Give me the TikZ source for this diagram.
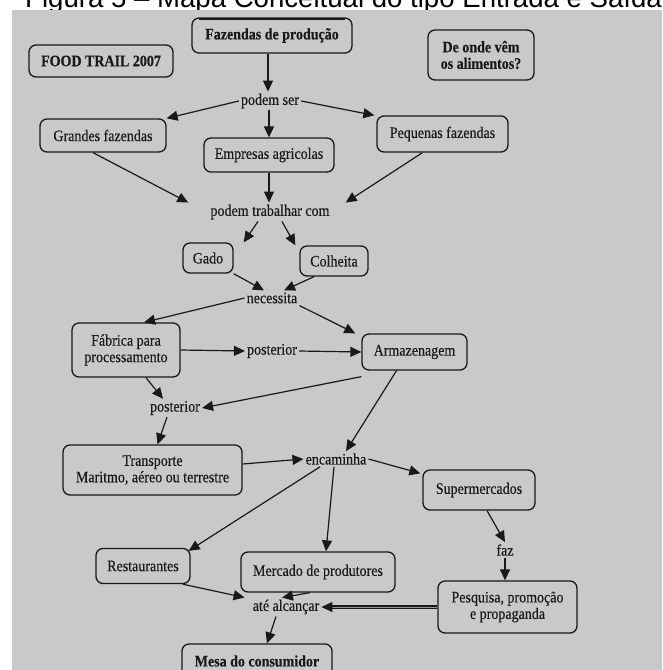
\documentclass[tikz,border=0pt]{standalone}
\usepackage{fontspec}
\setmainfont{Liberation Serif}[FakeStretch=0.875, FakeBold=0.3]
\newfontfamily\capfont{Liberation Sans}
\usetikzlibrary{arrows.meta}
\definecolor{panel}{RGB}{201,201,201}
\definecolor{ink}{RGB}{25,25,25}
\tikzset{
  concept/.style={draw=ink, rounded corners=7pt, line width=1.3pt, align=center,
    inner sep=2pt, font=\fontsize{16}{16.5}\selectfont, text=ink},
  bconcept/.style={concept, font=\fontsize{16}{16.5}\selectfont\bfseries},
  link/.style={inner sep=2pt, font=\fontsize{16}{16.5}\selectfont, text=ink},
  arr/.style={draw=ink, line width=1.2pt, -{Triangle[length=11pt,width=10pt]}},
}
\begin{document}
\begin{tikzpicture}[x=1pt,y=-1pt]
\useasboundingbox (0,0) rectangle (662,670);
\fill[white] (0,0) rectangle (662,670);
% caption strip, cut off at the top edge
\begin{scope}
  \clip (0,0) rectangle (662,10);
  \node[anchor=base west, inner sep=0pt, font=\capfont\fontsize{27.6}{30}\selectfont] (caption) at (25,7)
    {Figura 5 – Mapa Conceitual do tipo Entrada e Saída};
\end{scope}
\fill[panel] (12,10) rectangle (662,670);

% concepts
\node[bconcept, minimum width=160pt, minimum height=35pt] (faz) at (272,35.5) {Fazendas de produção};
\draw[ink, line width=2pt] ([xshift=8pt,yshift=-2pt]faz.north west) -- ([xshift=-8pt,yshift=-2pt]faz.north east);
\node[bconcept, minimum width=144pt, minimum height=32pt] (food) at (101,61) {FOOD TRAIL 2007};
\node[bconcept, minimum width=106pt, minimum height=50pt] (onde) at (481,55) {De onde vêm\\os alimentos?};
\node[link] (ser) at (270,101) {podem ser};
\node[concept, minimum width=126pt, minimum height=33pt] (grandes) at (103,135.5) {Grandes fazendas};
\node[concept, minimum width=130pt, minimum height=34pt] (empresas) at (269,155) {Empresas agricolas};
\node[concept, minimum width=131pt, minimum height=36pt] (pequenas) at (442.5,134) {Pequenas fazendas};
\node[link] (trab) at (270,212) {podem trabalhar com};
\node[concept, minimum width=50pt, minimum height=30pt] (gado) at (208,258) {Gado};
\node[concept, minimum width=68pt, minimum height=30pt] (colheita) at (334,261) {Colheita};
\node[link] (nec) at (272,298) {necessita};
\node[concept, minimum width=108pt, minimum height=54pt] (fabrica) at (126,350) {Fábrica para\\processamento};
\node[link] (postA) at (272,351) {posterior};
\node[concept, minimum width=105pt, minimum height=36pt] (armaz) at (414.5,352) {Armazenagem};
\node[link] (postB) at (175,408) {posterior};
\node[concept, minimum width=179pt, minimum height=50pt] (transp) at (152.5,470) {Transporte\\Maritmo, aéreo ou terrestre};
\node[link] (enc) at (336,459) {encaminha};
\node[concept, minimum width=112pt, minimum height=40pt] (super) at (479,490) {Supermercados};
\node[concept, minimum width=94pt, minimum height=35pt] (rest) at (143,566) {Restaurantes};
\node[concept, minimum width=154pt, minimum height=40pt] (merc) at (318,572) {Mercado de produtores};
\node[link] (fz) at (505,550) {faz};
\node[concept, minimum width=139pt, minimum height=52pt] (pesq) at (507.5,607) {Pesquisa, promoção\\e propaganda};
\node[link] (ate) at (286,607) {até alcançar};
\node[bconcept, minimum width=150pt, minimum height=34pt] (mesa) at (257,661) {Mesa do consumidor};

% connectors
\draw[arr] (faz.south) ++(-4,0) coordinate (f0) (f0) -- (f0 |- ser.north);
\draw[arr] (ser.west) -- (grandes.north east);
\draw[arr] (ser.south -| empresas.north) -- (empresas.north);
\draw[arr] (ser.east) -- ([xshift=-2pt]pequenas.north west);
\draw[arr] ([xshift=-10pt]grandes.south) -- ([xshift=-20pt]trab.north west);
\draw[arr] (empresas.south) -- (empresas.south |- trab.north);
\draw[arr] ([xshift=-20pt]pequenas.south) -- ([xshift=14pt]trab.north east);
\draw[arr] ([xshift=-12pt]trab.south) -- ([xshift=10pt]gado.north east);
\draw[arr] ([xshift=12pt]trab.south) -- ([xshift=-4pt]colheita.north west);
\draw[arr] (gado.south east) -- ([xshift=-8pt]nec.north);
\draw[arr] ([xshift=-20pt]colheita.south) -- ([xshift=12pt]nec.north);
\draw[arr] (nec.west) -- ([xshift=18pt]fabrica.north);
\draw[arr] (nec.south east) -- ([xshift=-6pt]armaz.north west);
\draw[arr] (fabrica.east) -- (postA.west);
\draw[arr] (postA.east) -- (armaz.west);
\draw[arr] ([xshift=20pt]fabrica.south) -- ([xshift=-12pt]postB.north);
\draw[arr] ([yshift=-6pt]armaz.south west) -- (postB.east);
\draw[arr] ([xshift=-8pt]postB.south) -- ([xshift=5pt]transp.north);
\draw[arr] ([xshift=-18pt]armaz.south) -- ([xshift=10pt]enc.north);
\draw[arr] ([yshift=6pt]transp.east) -- (enc.west);
\draw[arr] (enc.east) -- ([xshift=-2pt,yshift=-4pt]super.north west);
\draw[arr] ([xshift=-16pt]enc.south) -- ([xshift=-2pt,yshift=-3pt]rest.north east);
\draw[arr] ([xshift=-2pt]enc.south) -- ([xshift=8pt]merc.north);
\draw[arr] ([xshift=8pt]super.south) -- (fz.north);
\draw[arr] (fz.south) -- (fz.south |- pesq.north);
\draw[arr] ([xshift=-8pt]rest.south east) -- ([xshift=-6pt]ate.north west);
\draw[arr] ([xshift=-8pt]merc.south) -- ([xshift=-4pt]ate.north);
\draw[arr, double=panel!70!ink, double distance=1pt, line width=1.2pt] (pesq.west) -- (ate.east);
\draw[arr] ([xshift=-10pt]ate.south) -- ([xshift=10pt]mesa.north);
\end{tikzpicture}
\end{document}
